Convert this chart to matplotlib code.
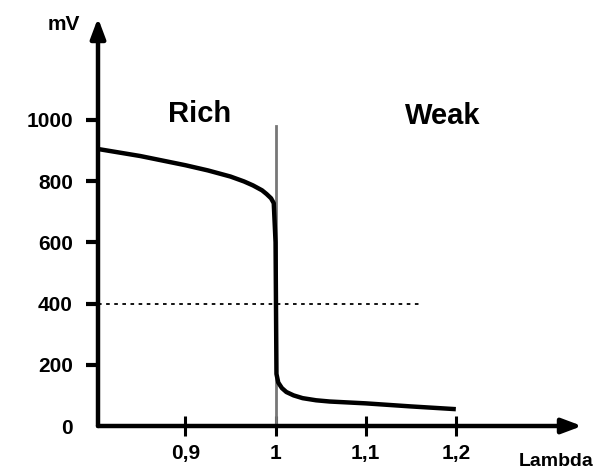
import matplotlib
matplotlib.use("Agg")
import matplotlib.pyplot as plt

plt.rcParams["font.family"] = ["Liberation Sans", "DejaVu Sans"]
plt.rcParams["font.weight"] = "bold"

# ── data ─────────────────────────────────────────────────────────────────────
lam_curve = [0.803, 0.85, 0.90, 0.925, 0.95, 0.965, 0.975, 0.985, 0.99,
             0.995, 0.998, 1.000, 1.001, 1.003, 1.007, 1.012, 1.02, 1.03,
             1.045, 1.06, 1.10, 1.15, 1.20]
mv_curve = [905, 882, 852, 835, 815, 799, 786, 770, 758,
            744, 728, 600, 170, 142, 124, 111, 100, 91,
            84, 80, 74, 64, 55]

stoich_lambda = 1.0
stoich_top = 980
ref_mv = 400
ref_end = 1.161

x_ticks = [0.9, 1.0, 1.1, 1.2]
x_labels = ["0,9", "1", "1,1", "1,2"]
y_ticks = [0, 200, 400, 600, 800, 1000]
y_labels = ["0", "200", "400", "600", "800", "1000"]

x_min, x_max = 0.803, 1.34
y_min, y_max = 0, 1333

# ── figure ───────────────────────────────────────────────────────────────────
fig = plt.figure(figsize=(5.98, 4.70), dpi=100)
ax = fig.add_axes([98 / 598, 44 / 470, 484 / 598, 408 / 470])
ax.set_xlim(x_min, x_max)
ax.set_ylim(y_min, y_max)
for s in ax.spines.values():
    s.set_visible(False)

# axes drawn as arrows
arrow = dict(arrowstyle="-|>,head_length=1.2,head_width=0.45", lw=3.2,
             color="black", shrinkA=0, shrinkB=0)
ax.annotate("", xy=(x_max, 0), xytext=(x_min, 0), arrowprops=arrow,
            annotation_clip=False)
ax.annotate("", xy=(x_min, y_max), xytext=(x_min, 0), arrowprops=arrow,
            annotation_clip=False)

# stoichiometric marker and 400 mV reference
ax.plot([stoich_lambda, stoich_lambda], [0, stoich_top], color="#777777", lw=2)
ax.plot([x_min, ref_end], [ref_mv, ref_mv], color="black", lw=1.3,
        ls=(0, (2, 2.5)))

# sensor curve
ax.plot(lam_curve, mv_curve, color="black", lw=3.2, solid_joinstyle="round",
        solid_capstyle="butt")

# ticks
ax.set_xticks(x_ticks, x_labels)
ax.set_yticks(y_ticks, y_labels)
ax.tick_params(axis="x", direction="inout", length=14, width=2.2,
               labelsize=15, pad=6)
ax.tick_params(axis="y", direction="out", length=9, width=3,
               labelsize=15, pad=9)
ax.yaxis.get_ticklines()[0].set_visible(False)

# labels
ax.text(-0.07, y_max * 0.985, "mV", transform=ax.get_yaxis_transform(),
        ha="center", va="center", fontsize=15, fontweight="bold")
ax.text(556 / 598, 8 / 470, "Lambda", transform=fig.transFigure,
        ha="center", va="center", fontsize=14, fontweight="bold")
ax.text(0.916, 1018, "Rich", ha="center", va="center", fontsize=21,
        fontweight="bold")
ax.text(1.186, 1013, "Weak", ha="center", va="center", fontsize=21,
        fontweight="bold")

fig.savefig("out.png", dpi=100)
